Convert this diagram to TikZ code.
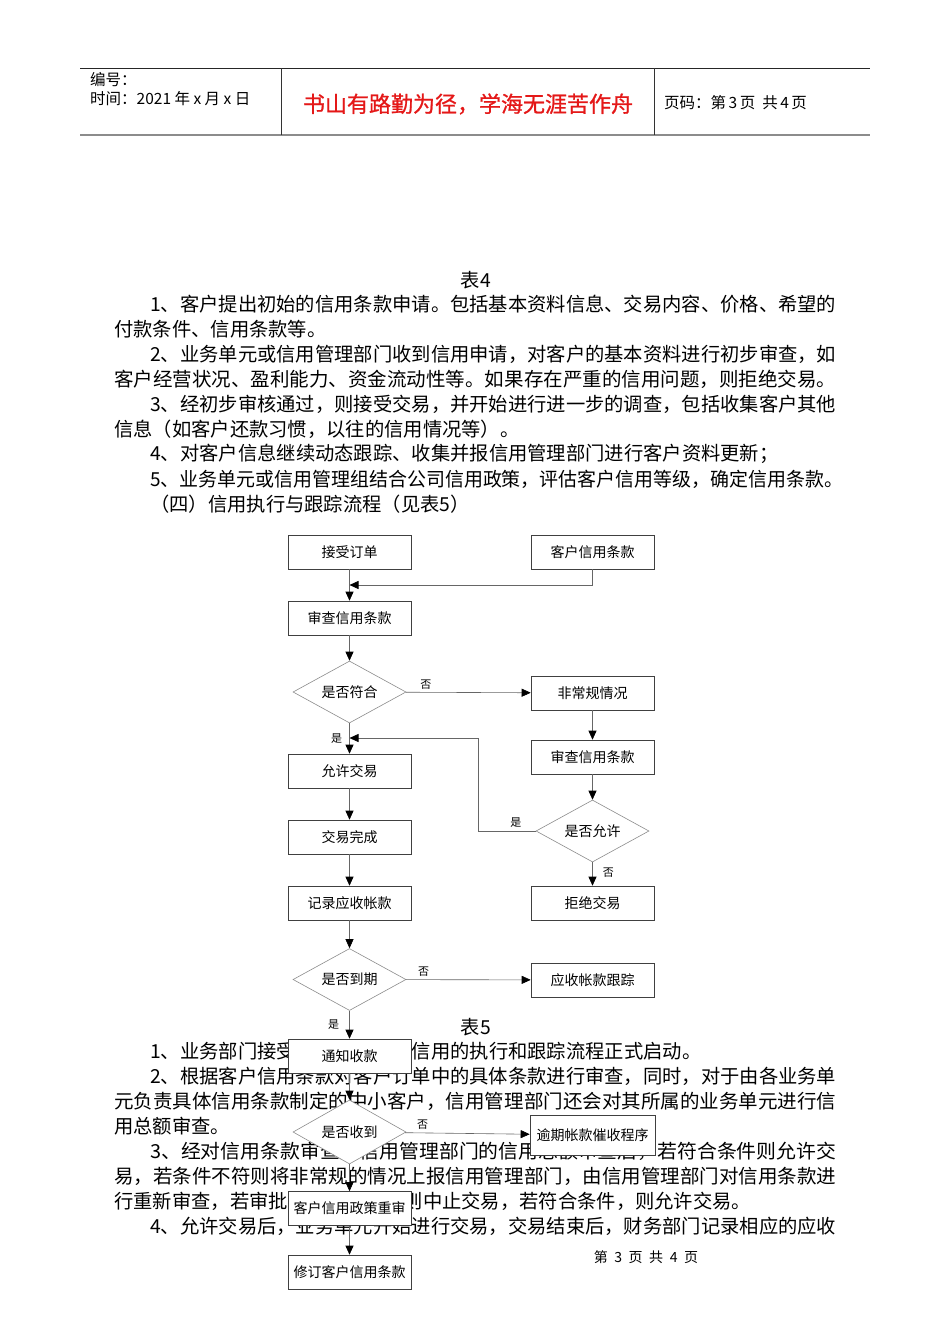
\documentclass[tikz,border=0pt]{standalone}
\usepackage{graphicx}
\usepackage{fontspec}
\setmainfont{Liberation Serif}
\newfontfamily\cjk{Noto Sans CJK SC}
\newfontfamily\cjkb[FakeBold=1]{Noto Sans CJK SC}
\usetikzlibrary{arrows.meta,positioning,calc,shapes.geometric}
\definecolor{mottored}{RGB}{228,24,24}

% one line of body text, natural width or stretched to a width
\newcommand{\plainline}[3]{\node[bodytext] (#1) at (#2) {#3};}
\newcommand{\fitline}[4]{\node[bodytext] (#1) at (#2) {\resizebox{#3pt}{\height}{#4}};}

\begin{document}
\begin{tikzpicture}[x=1pt,y=-1pt,
    bodytext/.style={anchor=west, inner sep=0pt, font=\cjk\fontsize{19.3}{19.3}\selectfont},
    headtext/.style={anchor=west, inner sep=0pt, font=\cjk\fontsize{15.5}{15.5}\selectfont},
    box/.style={draw=black!75, line width=0.6pt, fill=white, minimum width=123pt, minimum height=34pt,
      inner sep=0pt, font=\cjk\fontsize{14}{14}\selectfont},
    decision/.style={diamond, aspect=1.82, draw=black!45, line width=0.6pt, fill=white,
      minimum width=113pt, minimum height=62pt, inner sep=0pt, font=\cjk\fontsize{14}{14}\selectfont},
    flow/.style={draw=black!60, line width=0.6pt, -{Triangle[length=9pt,width=8pt,color=black]}},
    yn/.style={inner sep=0pt, font=\cjk\fontsize{11}{11}\selectfont}]
    \useasboundingbox (0,0) rectangle (950,1344);

    % Header
    \draw[line width=1pt, black!85] (80,68) -- (870,68);
    \draw[line width=2pt, black!45] (80,135) -- (870,135);
    \draw[line width=0.8pt, black!80] (281,68) -- (281,135);
    \draw[line width=0.8pt, black!80] (654,68) -- (654,135);
    \node[headtext] (serial) at (90,80) {编号：};
    \node[headtext] (date) at (90,99) {时间：2021 年 x 月 x 日};
    \node[font=\cjkb\fontsize{22}{22}\selectfont, text=mottored, inner sep=0pt] (motto) at (468,104)
      {书山有路勤为径，学海无涯苦作舟};
    \node[headtext] (pageno) at (664,103) {页码：第\hspace{2.5pt}3\hspace{2.5pt}页\hspace{7pt}共\hspace{2.5pt}4\hspace{2.5pt}页};

    % Text of table 4
    \node[bodytext, anchor=center] (tab4) at (476,280) {表4};
    \fitline{a1}{150,304}{686}{1、客户提出初始的信用条款申请。包括基本资料信息、交易内容、价格、希望的}
    \plainline{a2}{114,329}{付款条件、信用条款等。}
    \fitline{a3}{150,354}{686}{2、业务单元或信用管理部门收到信用申请，对客户的基本资料进行初步审查，如}
    \fitline{a4}{114,379}{722}{客户经营状况、盈利能力、资金流动性等。如果存在严重的信用问题，则拒绝交易。}
    \fitline{a5}{150,404}{686}{3、经初步审核通过，则接受交易，并开始进行进一步的调查，包括收集客户其他}
    \plainline{a6}{114,429}{信息（如客户还款习惯，以往的信用情况等）。}
    \plainline{a7}{150,454}{4、对客户信息继续动态跟踪、收集并报信用管理部门进行客户资料更新；}
    \fitline{a8}{150,479}{693}{5、业务单元或信用管理组结合公司信用政策，评估客户信用等级，确定信用条款。}
    \plainline{a9}{150,504}{（四）信用执行与跟踪流程（见表5）}

    % Text of table 5
    \node[bodytext, anchor=center] (tab5) at (476,1027) {表5};
    \plainline{b1}{150,1051}{1、业务部门接受客户订单后，信用的执行和跟踪流程正式启动。}
    \fitline{b2}{150,1076}{686}{2、根据客户信用条款对客户订单中的具体条款进行审查，同时，对于由各业务单}
    \fitline{b3}{114,1101}{722}{元负责具体信用条款制定的中小客户，信用管理部门还会对其所属的业务单元进行信}
    \plainline{b4}{114,1126}{用总额审查。}
    \fitline{b5}{150,1151}{686}{3、经对信用条款审查及信用管理部门的信用总额审查后，若符合条件则允许交}
    \fitline{b6}{114,1176}{722}{易，若条件不符则将非常规的情况上报信用管理部门，由信用管理部门对信用条款进}
    \plainline{b7}{114,1201}{行重新审查，若审批不符合条件，则中止交易，若符合条件，则允许交易。}
    \fitline{b8}{150,1226}{686}{4、允许交易后，业务单元开始进行交易，交易结束后，财务部门记录相应的应收}

    % Footer
    \node[inner sep=0pt, font=\cjk\fontsize{14}{14}\selectfont] (footer) at (646,1257)
      {第\hspace{6.5pt}3\hspace{6.5pt}页\hspace{6.5pt}共\hspace{6.5pt}4\hspace{6.5pt}页};

    % Flow chart
    \node[box] (order) at (349.5,552) {接受订单};
    \node[box] (terms) at (592.5,552) {客户信用条款};
    \node[box] (check) at (349.5,618) {审查信用条款};
    \node[decision] (fit) at (349.5,692) {是否符合};
    \node[box] (odd) at (592.5,693) {非常规情况};
    \node[box] (recheck) at (592.5,757) {审查信用条款};
    \node[decision] (allow) at (592.5,831) {是否允许};
    \node[box] (permit) at (349.5,771) {允许交易};
    \node[box] (done) at (349.5,837) {交易完成};
    \node[box] (record) at (349.5,903) {记录应收帐款};
    \node[box] (refuse) at (592.5,903) {拒绝交易};
    \node[decision] (due) at (349.5,979.5) {是否到期};
    \node[box] (track) at (592.5,980) {应收帐款跟踪};
    \node[box] (notice) at (349.5,1056) {通知收款};
    \node[decision, minimum height=64pt] (paid) at (349.5,1132) {是否收到};
    \node[box, minimum width=125pt, minimum height=40pt] (overdue) at (592.5,1135) {逾期帐款催收程序};
    \node[box] (review) at (349.5,1208.5) {客户信用政策重审};
    \node[box] (revise) at (349.5,1272) {修订客户信用条款};

    \coordinate (join) at (349.5,585);
    \coordinate (back) at (349.5,738);
    \draw[flow] (terms.south) |- (join);
    \draw[flow] (order) -- (check);
    \draw[flow] (check) -- (fit);
    \draw[flow] (fit) -- node[yn, above=3pt, pos=0.16] {否} (odd);
    \draw[flow] (odd) -- (recheck);
    \draw[flow] (recheck) -- (allow);
    \draw[flow] (allow.west) -- node[yn, above=3pt, pos=0.35] {是} ++(-57,0) |- (back);
    \draw[flow] (fit.south) -- node[yn, left=7pt, pos=0.5] {是} (permit.north);
    \draw[flow] (permit) -- (done);
    \draw[flow] (done) -- (record);
    \draw[flow] (allow.south) -- node[yn, right=10pt, pos=0.42] {否} (refuse.north);
    \draw[flow] (record) -- (due);
    \draw[flow] (due) -- node[yn, above=3pt, pos=0.14] {否} (track);
    \draw[flow] (due.south) -- node[yn, left=10pt, pos=0.48] {是} (notice.north);
    \draw[flow] (notice) -- (paid);
    \draw[flow] (paid) -- node[yn, above=3pt, pos=0.14] {否} (overdue);
    \draw[flow] (paid) -- (review);
    \draw[flow] (review) -- (revise);
\end{tikzpicture}
\end{document}
